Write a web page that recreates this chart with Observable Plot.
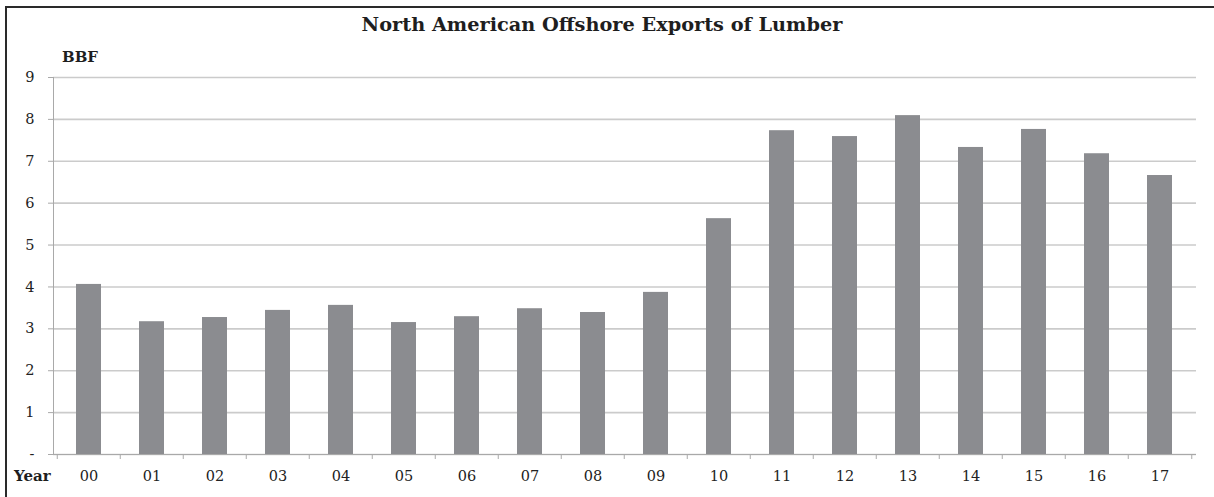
<!DOCTYPE html>
<html><head><meta charset="utf-8">
<script src="https://cdn.jsdelivr.net/npm/d3@7"></script>
<script src="https://cdn.jsdelivr.net/npm/@observablehq/plot@0.6"></script>
<style>
html,body{margin:0;padding:0;background:#fff;overflow:hidden;}
#wrap{position:relative;width:1214px;height:497px;overflow:hidden;}
#border{position:absolute;left:5px;top:6px;width:1300px;height:600px;border-top:2px solid #2a2a2a;border-left:2px solid #2a2a2a;}
.lbl{position:absolute;font-family:"DejaVu Serif",serif;font-weight:bold;color:#1e1e1e;white-space:nowrap;line-height:1;}
#chart{position:absolute;left:0;top:0;}
</style></head><body>
<div id="wrap">
<div id="chart"></div>
<div id="border"></div>
<div class="lbl" id="title" style="left:0;width:1204px;text-align:center;top:15px;font-size:19.3px;">North American Offshore Exports of Lumber</div>
<div class="lbl" style="left:62px;top:50px;font-size:15px;">BBF</div>
<div class="lbl" style="left:14px;top:469px;font-size:15px;">Year</div>
</div>
<script>
const years = ["00","01","02","03","04","05","06","07","08","09","10","11","12","13","14","15","16","17"];
const values = [4.06,3.17,3.27,3.44,3.56,3.15,3.29,3.48,3.39,3.87,5.63,7.73,7.59,8.09,7.33,7.76,7.18,6.66];
const yTicks = [0,1,2,3,4,5,6,7,8,9];

const W = 1214, H = 497, mL = 53, mR = 18, mT = 77, mB = 43;
const step = (W - mL - mR) / years.length;
const data = years.map((year, i) => ({year, value: values[i]}));
const axisGray = "#a9a9a9";

const plot = Plot.plot({
  width: W, height: H,
  marginLeft: mL, marginRight: mR, marginTop: mT, marginBottom: mB,
  style: {fontFamily: '"DejaVu Serif", serif', fontSize: "14.5px", color: "#222", background: "transparent"},
  x: {domain: years, paddingInner: 0.6, paddingOuter: 0.3, label: null},
  y: {domain: [0, 9], label: null},
  marks: [
    Plot.gridY(yTicks, {stroke: "#cbcbcb", strokeOpacity: 1, strokeWidth: 1.6}),
    Plot.barY(data, {x: "year", y: "value", fill: "#8b8c90"}),
    Plot.frame({anchor: "left", stroke: axisGray}),
    Plot.ruleY([0], {stroke: axisGray}),
    Plot.axisY(yTicks, {tickSize: 5, tickPadding: 14, stroke: axisGray, fill: "#222",
      tickFormat: d => d === 0 ? "-" : String(d), label: null}),
    Plot.axisX({tickSize: 0, tickPadding: 16, fill: "#222", label: null}),
    Plot.ruleX(years, {x: d => d, y1: 0, y2: 0, insetBottom: -5, dx: -step / 2, stroke: axisGray}),
    Plot.ruleX(years.slice(-1), {x: d => d, y1: 0, y2: 0, insetBottom: -5, dx: step / 2, stroke: axisGray})
  ]
});
document.getElementById("chart").appendChild(plot);
</script>
</body></html>
